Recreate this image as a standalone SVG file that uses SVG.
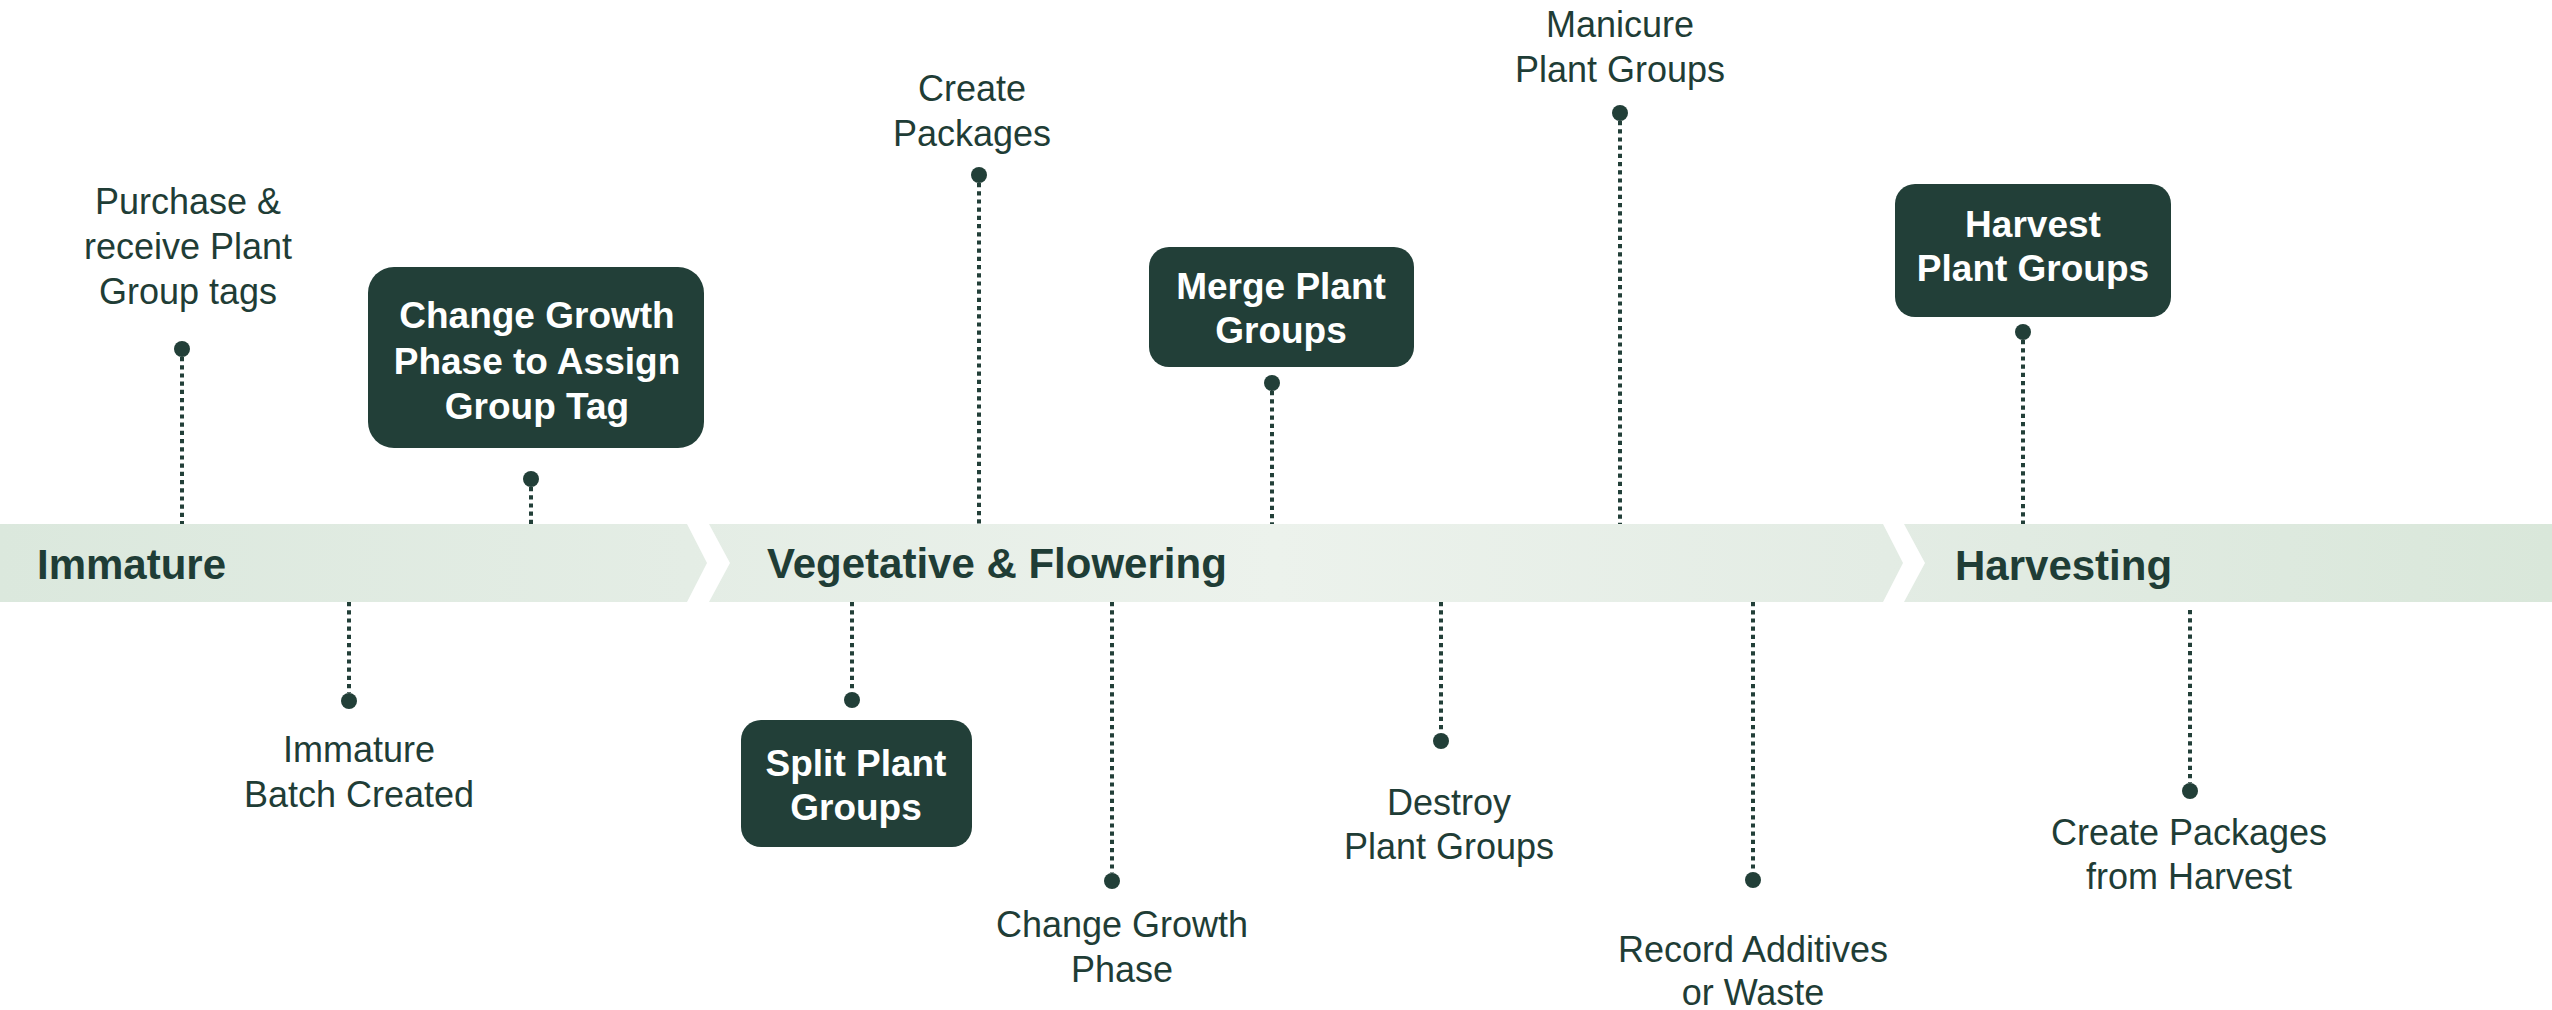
<svg xmlns="http://www.w3.org/2000/svg" width="2552" height="1010" viewBox="0 0 2552 1010">
<defs>
<linearGradient id="band" x1="0" y1="0" x2="1" y2="0">
<stop offset="0" stop-color="#dbe8dd"/>
<stop offset="0.27" stop-color="#e4ede5"/>
<stop offset="0.5" stop-color="#ecf2ec"/>
<stop offset="0.74" stop-color="#e3ece4"/>
<stop offset="1" stop-color="#d9e7da"/>
</linearGradient>
<style>
.lbl{font-family:"Liberation Sans",Arial,sans-serif;font-size:36px;fill:#1f3d36;text-anchor:middle}
.btx{font-family:"Liberation Sans",Arial,sans-serif;font-size:37px;font-weight:bold;fill:#ffffff;text-anchor:middle}
.stage{font-family:"Liberation Sans",Arial,sans-serif;font-size:42px;font-weight:bold;fill:#1f3d36}
.box{fill:#223f38}
.dot{fill:#223f38}
.ln{stroke:#223f38;stroke-width:4;stroke-dasharray:4.2 4;fill:none}
</style>
</defs>
<rect width="2552" height="1010" fill="#ffffff"/>
<g id="band-group">
<rect x="0" y="524" width="2552" height="78" fill="url(#band)"/>
<polygon points="687,524 709,524 730,563 709,602 687,602 707,563" fill="#ffffff"/>
<polygon points="1883,524 1904,524 1925,563 1904,602 1883,602 1903,563" fill="#ffffff"/>
<text class="stage" x="37" y="579">Immature</text>
<text class="stage" x="767" y="578">Vegetative &amp; Flowering</text>
<text class="stage" x="1955" y="580">Harvesting</text>
</g>
<g id="connectors">
<line class="ln" x1="182" y1="357" x2="182" y2="524"/>
<line class="ln" x1="531" y1="487" x2="531" y2="524"/>
<line class="ln" x1="979" y1="183" x2="979" y2="524"/>
<line class="ln" x1="1272" y1="391" x2="1272" y2="524"/>
<line class="ln" x1="1620" y1="121" x2="1620" y2="524"/>
<line class="ln" x1="2023" y1="340" x2="2023" y2="524"/>
<line class="ln" x1="349" y1="602" x2="349" y2="693"/>
<line class="ln" x1="852" y1="602" x2="852" y2="692"/>
<line class="ln" x1="1112" y1="602" x2="1112" y2="873"/>
<line class="ln" x1="1441" y1="602" x2="1441" y2="733"/>
<line class="ln" x1="1753" y1="602" x2="1753" y2="872"/>
<line class="ln" x1="2190" y1="610" x2="2190" y2="783"/>
<circle class="dot" cx="182" cy="349" r="8"/>
<circle class="dot" cx="531" cy="479" r="8"/>
<circle class="dot" cx="979" cy="175" r="8"/>
<circle class="dot" cx="1272" cy="383" r="8"/>
<circle class="dot" cx="1620" cy="113" r="8"/>
<circle class="dot" cx="2023" cy="332" r="8"/>
<circle class="dot" cx="349" cy="701" r="8"/>
<circle class="dot" cx="852" cy="700" r="8"/>
<circle class="dot" cx="1112" cy="881" r="8"/>
<circle class="dot" cx="1441" cy="741" r="8"/>
<circle class="dot" cx="1753" cy="880" r="8"/>
<circle class="dot" cx="2190" cy="791" r="8"/>
</g>
<g id="n-purchase">
<text class="lbl" x="188" y="214">Purchase &amp;</text>
<text class="lbl" x="188" y="259">receive Plant</text>
<text class="lbl" x="188" y="304">Group tags</text>
</g>
<g id="n-change-assign">
<rect class="box" x="368" y="267" width="336" height="181" rx="26"/>
<text class="btx" x="537" y="328">Change Growth</text>
<text class="btx" x="537" y="374">Phase to Assign</text>
<text class="btx" x="537" y="419">Group Tag</text>
</g>
<g id="n-create-packages">
<text class="lbl" x="972" y="101">Create</text>
<text class="lbl" x="972" y="146">Packages</text>
</g>
<g id="n-merge">
<rect class="box" x="1149" y="247" width="265" height="120" rx="20"/>
<text class="btx" x="1281" y="299">Merge Plant</text>
<text class="btx" x="1281" y="343">Groups</text>
</g>
<g id="n-manicure">
<text class="lbl" x="1620" y="37">Manicure</text>
<text class="lbl" x="1620" y="82">Plant Groups</text>
</g>
<g id="n-harvest">
<rect class="box" x="1895" y="184" width="276" height="133" rx="20"/>
<text class="btx" x="2033" y="237">Harvest</text>
<text class="btx" x="2033" y="281">Plant Groups</text>
</g>
<g id="n-immature-batch">
<text class="lbl" x="359" y="762">Immature</text>
<text class="lbl" x="359" y="807">Batch Created</text>
</g>
<g id="n-split">
<rect class="box" x="741" y="720" width="231" height="127" rx="20"/>
<text class="btx" x="856" y="776">Split Plant</text>
<text class="btx" x="856" y="820">Groups</text>
</g>
<g id="n-change-phase">
<text class="lbl" x="1122" y="937">Change Growth</text>
<text class="lbl" x="1122" y="982">Phase</text>
</g>
<g id="n-destroy">
<text class="lbl" x="1449" y="815">Destroy</text>
<text class="lbl" x="1449" y="859">Plant Groups</text>
</g>
<g id="n-record">
<text class="lbl" x="1753" y="962">Record Additives</text>
<text class="lbl" x="1753" y="1005">or Waste</text>
</g>
<g id="n-harvest-packages">
<text class="lbl" x="2189" y="845">Create Packages</text>
<text class="lbl" x="2189" y="889">from Harvest</text>
</g>
</svg>
